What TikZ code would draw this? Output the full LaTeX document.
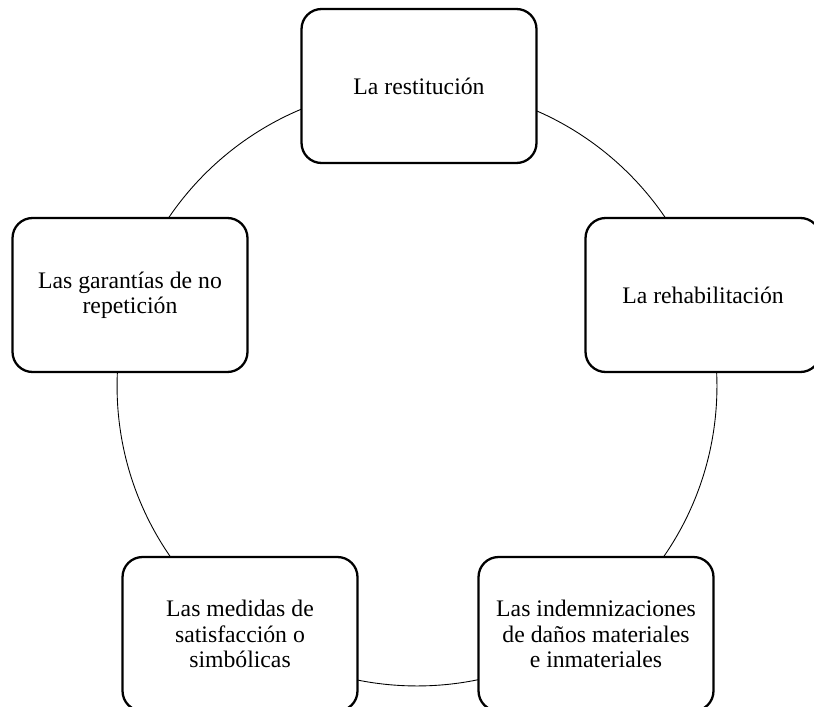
\documentclass[tikz,border=0pt]{standalone}
\usepackage{fontspec}
\setmainfont{Liberation Serif}
\usepackage{tikz}

\tikzset{remedy/.style={draw, line width=1.3pt, rounded corners=0.4cm, fill=white,
  minimum width=4.7cm, minimum height=3.08cm, align=center,
  font=\fontsize{13.5}{14.3}\selectfont}}

\begin{document}
\begin{tikzpicture}[x=0.02cm, y=-0.02cm]

\useasboundingbox (0,0) rectangle (814,706);
\draw[line width=0.5pt] (417,386) circle (6cm);

\node[remedy] (restitucion) at (419,86) {La restitución};
\node[remedy] (rehabilitacion) at (703,295) {La rehabilitación};
\node[remedy] (indemnizaciones) at (596,634) {Las indemnizaciones\\de daños materiales\\e inmateriales};
\node[remedy] (satisfaccion) at (240,634) {Las medidas de\\satisfacción o\\simbólicas};
\node[remedy] (garantias) at (130,295) {Las garantías de no\\repetición};

\end{tikzpicture}
\end{document}
